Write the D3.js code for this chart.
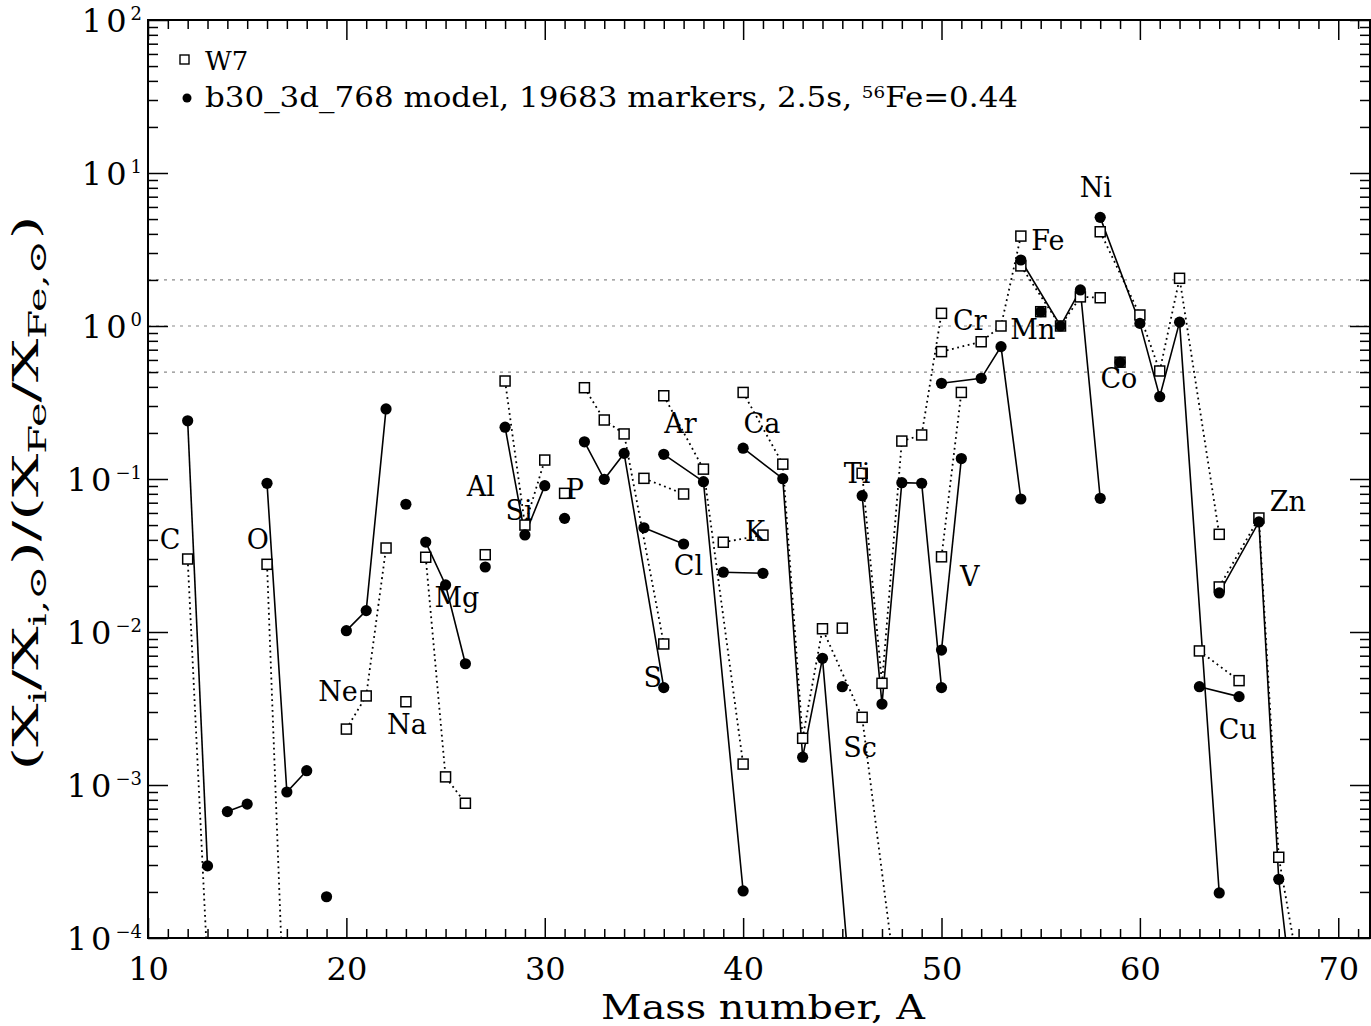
<!DOCTYPE html>
<html>
<head>
<meta charset="utf-8">
<script src="https://cdn.jsdelivr.net/npm/d3@7"></script>
<style>
  html, body { margin: 0; padding: 0; background: #fff; }
  svg { display: block; }
  text { font-family: "DejaVu Serif", "Liberation Serif", serif; fill: #000; }
</style>
</head>
<body>
<svg id="chart" width="1371" height="1026"></svg>
<script>
// ---------- DATA ----------
const isoElement = ["C","C","N","N","O","O","O","F","Ne","Ne","Ne","Na","Mg","Mg","Mg","Al",
  "Si","Si","Si","P","S","S","S","S","Cl","Cl","Ar","Ar","Ar","K","K",
  "Ca","Ca","Ca","Ca","Ca","Ca","Sc","Ti","Ti","Ti","Ti","Ti","V","V",
  "Cr","Cr","Cr","Cr","Mn","Fe","Fe","Fe","Fe","Co","Ni","Ni","Ni","Ni","Ni",
  "Cu","Cu","Zn","Zn","Zn","Zn","Zn"];
const isoMass = [12,13,14,15,16,17,18,19,20,21,22,23,24,25,26,27,
  28,29,30,31,32,33,34,36,35,37,36,38,40,39,41,
  40,42,43,44,46,48,45,46,47,48,49,50,50,51,
  50,52,53,54,55,54,56,57,58,59,58,60,61,62,64,
  63,65,64,66,67,68,70];
// W7 model (open squares, dotted lines); null = not available / far off scale
const w7Ratio = [0.030,6.5e-5,null,null,0.0277,1.0e-5,null,null,2.32e-3,3.82e-3,0.0354,3.5e-3,0.0308,1.13e-3,7.6e-4,0.032,
  0.437,0.050,0.133,0.0806,0.395,0.243,0.197,8.35e-3,0.101,0.0798,0.350,0.116,1.37e-3,0.0386,0.043,
  0.368,0.125,2.02e-3,0.0105,2.77e-3,2.6e-5,0.0106,0.109,4.62e-3,0.177,0.194,1.21,0.031,0.368,
  0.68,0.789,1.0,3.87,1.24,2.47,1.0,1.55,1.53,0.58,4.13,1.18,0.508,2.05,0.0435,
  7.52e-3,4.81e-3,0.0197,0.0556,3.37e-4,6.2e-5,null];
// b30_3d_768 model (filled circles, solid lines)
const modelRatio = [0.24,2.96e-4,6.7e-4,7.5e-4,0.0937,9.0e-4,1.24e-3,1.86e-4,0.0102,0.0138,0.287,0.0684,0.0387,0.0203,6.2e-3,0.0266,
  0.218,0.0431,0.0904,0.0553,0.175,0.0995,0.147,4.33e-3,0.048,0.0376,0.145,0.096,2.03e-4,0.0246,0.0242,
  0.159,0.1005,1.52e-3,6.73e-3,6e-6,null,4.39e-3,0.0778,3.38e-3,0.0946,0.0938,4.33e-3,7.62e-3,0.136,
  0.422,0.455,0.733,0.074,1.24,2.70,1.0,1.72,0.0748,0.58,5.13,1.04,0.345,1.06,1.97e-4,
  4.39e-3,3.78e-3,0.018,0.0524,2.42e-4,1.8e-5,null];

const labelText  = ["C","O","Ne","Na","Mg","Al","Si","P","S","Cl","Ar","K","Ca","Ti","Sc","V","Cr","Mn","Fe","Ni","Co","Zn","Cu"];
const labelMass  = [11.11,15.54,19.58,23.05,25.57,26.78,28.7,31.52,35.45,37.24,36.84,40.6,40.95,45.74,45.89,51.43,51.43,54.6,55.36,57.78,58.94,67.46,64.94];
const labelRatio = [0.040,0.040,4.06e-3,2.5e-3,0.0167,0.0887,0.0627,0.086,5.08e-3,0.0274,0.229,0.0457,0.229,0.108,1.75e-3,0.0229,1.08,0.942,3.6,8.1,0.457,0.0718,2.29e-3];

const refLines = [0.5, 1, 2];
const xMajor = [10,20,30,40,50,60,70];
const yDecades = [-4,-3,-2,-1,0,1,2];

// ---------- LAYOUT ----------
const L = 148, R = 1370, T = 20, B = 938;
const svg = d3.select("#chart");

const x = d3.scaleLinear().domain([10, 71.6]).range([L, R]);
const y = d3.scaleLog().domain([1e-4, 1e2]).range([B, T]);

svg.append("defs").append("clipPath").attr("id","plotclip")
  .append("rect").attr("x", L).attr("y", T).attr("width", R - L).attr("height", B - T);

// reference dotted grey lines
svg.append("g").selectAll("line").data(refLines).join("line")
  .attr("x1", L).attr("x2", R)
  .attr("y1", d => y(d)).attr("y2", d => y(d))
  .attr("stroke", "#8a8a8a").attr("stroke-width", 1.2)
  .attr("stroke-dasharray", "3,5");

// ---------- series ----------
const iso = isoElement.map((e, i) => ({el: e, A: isoMass[i], w7: w7Ratio[i], m: modelRatio[i]}));
const groups = d3.groups(iso, d => d.el);

const plot = svg.append("g").attr("clip-path", "url(#plotclip)");

const lineW7 = d3.line().defined(d => d.w7 != null).x(d => x(d.A)).y(d => y(d.w7));
const lineM  = d3.line().defined(d => d.m != null).x(d => x(d.A)).y(d => y(d.m));

plot.append("g").selectAll("path").data(groups.filter(g => g[1].length > 1)).join("path")
  .attr("d", g => lineW7(g[1]))
  .attr("fill", "none").attr("stroke", "#000").attr("stroke-width", 1.8)
  .attr("stroke-dasharray", "1.8,3.6");

plot.append("g").selectAll("path").data(groups.filter(g => g[1].length > 1)).join("path")
  .attr("d", g => lineM(g[1]))
  .attr("fill", "none").attr("stroke", "#000").attr("stroke-width", 1.6);

const sq = 10;
plot.append("g").selectAll("rect").data(iso.filter(d => d.w7 != null)).join("rect")
  .attr("x", d => x(d.A) - sq/2).attr("y", d => y(d.w7) - sq/2)
  .attr("width", sq).attr("height", sq)
  .attr("fill", "#fff").attr("stroke", "#000").attr("stroke-width", 1.5);

plot.append("g").selectAll("circle").data(iso.filter(d => d.m != null)).join("circle")
  .attr("cx", d => x(d.A)).attr("cy", d => y(d.m)).attr("r", 5.6)
  .attr("fill", "#000");

// element labels
svg.append("g").selectAll("text").data(labelText).join("text")
  .attr("x", (d, i) => x(labelMass[i])).attr("y", (d, i) => y(labelRatio[i]))
  .attr("text-anchor", "middle").attr("dominant-baseline", "central")
  .attr("font-size", 27).text(d => d);

// ---------- axes ----------
const xMinor = d3.range(11, 72).filter(v => v % 10 !== 0);
const yMinor = [];
for (let e = -4; e < 2; e++) for (let k = 2; k <= 9; k++) yMinor.push(k * Math.pow(10, e));

function styleAxis(g) {
  g.select(".domain").remove();
  g.selectAll(".tick line").attr("stroke", "#000").attr("stroke-width", 1.5);
}

svg.append("g").attr("transform", `translate(0,${B})`)
  .call(d3.axisBottom(x).tickValues(xMajor).tickSize(-20).tickPadding(13).tickFormat(d3.format("d")))
  .call(styleAxis)
  .call(g => g.selectAll(".tick text").attr("font-size", 32).attr("font-family", "DejaVu Serif").attr("dy", "0.9em"));
svg.append("g").attr("transform", `translate(0,${B})`)
  .call(d3.axisBottom(x).tickValues(xMinor).tickSize(-9).tickFormat(""))
  .call(styleAxis);
svg.append("g").attr("transform", `translate(0,${T})`)
  .call(d3.axisTop(x).tickValues(xMajor).tickSize(-20).tickFormat(""))
  .call(styleAxis);
svg.append("g").attr("transform", `translate(0,${T})`)
  .call(d3.axisTop(x).tickValues(xMinor).tickSize(-9).tickFormat(""))
  .call(styleAxis);

const yMajorVals = yDecades.map(e => Math.pow(10, e));
svg.append("g").attr("transform", `translate(${L},0)`)
  .call(d3.axisLeft(y).tickValues(yMajorVals).tickSize(-20).tickFormat(""))
  .call(styleAxis);
svg.append("g").attr("transform", `translate(${L},0)`)
  .call(d3.axisLeft(y).tickValues(yMinor).tickSize(-10).tickFormat(""))
  .call(styleAxis);
svg.append("g").attr("transform", `translate(${R},0)`)
  .call(d3.axisRight(y).tickValues(yMajorVals).tickSize(-20).tickFormat(""))
  .call(styleAxis);
svg.append("g").attr("transform", `translate(${R},0)`)
  .call(d3.axisRight(y).tickValues(yMinor).tickSize(-10).tickFormat(""))
  .call(styleAxis);

// y tick labels 10^n
const yl = svg.append("g").selectAll("text").data(yDecades).join("text")
  .attr("x", 142).attr("y", d => y(Math.pow(10, d)) + 12)
  .attr("text-anchor", "end").attr("font-size", 32);
yl.append("tspan").attr("letter-spacing", 4).text("10");
yl.append("tspan").attr("font-size", 18).attr("dy", -12)
  .text(d => d < 0 ? "\u2212" + Math.abs(d) : String(d));

// frame
svg.append("rect").attr("x", L).attr("y", T).attr("width", R - L).attr("height", B - T)
  .attr("fill", "none").attr("stroke", "#000").attr("stroke-width", 2);

// axis titles
svg.append("text").attr("x", 763).attr("y", 1019)
  .attr("text-anchor", "middle").attr("font-size", 33)
  .attr("font-family", "Liberation Serif")
  .attr("textLength", 324).attr("lengthAdjust", "spacingAndGlyphs")
  .text("Mass number, A");

const yt = svg.append("text").attr("transform", `translate(38,${(T + B) / 2 + 14}) rotate(-90)`)
  .attr("text-anchor", "middle").attr("font-size", 35)
  .attr("font-family", "Liberation Serif")
  .attr("textLength", 555).attr("lengthAdjust", "spacingAndGlyphs");
yt.append("tspan").text("(X");
yt.append("tspan").attr("font-size", 24).attr("dy", 8).text("i");
yt.append("tspan").attr("dy", -8).text("/X");
yt.append("tspan").attr("font-size", 24).attr("dy", 8).text("i,\u2299");
yt.append("tspan").attr("dy", -8).text(")/(X");
yt.append("tspan").attr("font-size", 24).attr("dy", 8).text("Fe");
yt.append("tspan").attr("dy", -8).text("/X");
yt.append("tspan").attr("font-size", 24).attr("dy", 8).text("Fe,\u2299");
yt.append("tspan").attr("dy", -8).text(")");

// legend
const lg = svg.append("g");
lg.append("rect").attr("x", 180).attr("y", 55).attr("width", 9).attr("height", 9)
  .attr("fill", "#fff").attr("stroke", "#000").attr("stroke-width", 1.4);
lg.append("text").attr("x", 205).attr("y", 70).attr("font-size", 26).text("W7");
lg.append("circle").attr("cx", 187).attr("cy", 98).attr("r", 4.5).attr("fill", "#000");
const lt = lg.append("text").attr("x", 205).attr("y", 107).attr("font-size", 27)
  .attr("textLength", 813).attr("lengthAdjust", "spacingAndGlyphs");
lt.append("tspan").text("b30_3d_768 model, 19683 markers, 2.5s, ");
lt.append("tspan").attr("font-size", 16).attr("dy", -9).text("56");
lt.append("tspan").attr("dy", 9).text("Fe=0.44");
</script>
</body>
</html>
